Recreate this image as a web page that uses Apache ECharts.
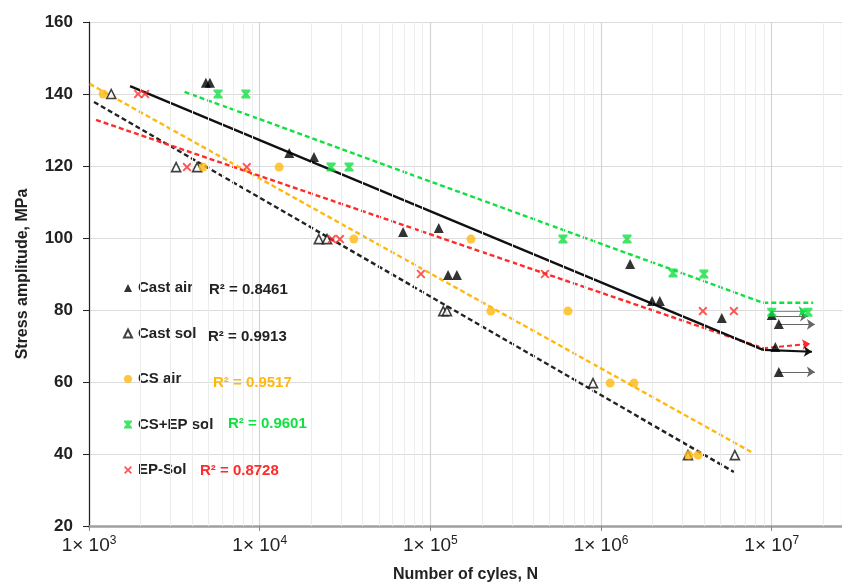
<!DOCTYPE html>
<html>
<head>
<meta charset="utf-8">
<title>S-N curves</title>
<script src="https://cdn.jsdelivr.net/npm/echarts@6/dist/echarts.min.js"></script>
<style>
  html, body { margin: 0; padding: 0; background: #fff; }
  #chart { width: 842px; height: 584px; }
</style>
</head>
<body>
<div id="chart"></div>
<script>
/********** data **********/
// [N, stress amplitude MPa]
var castAir = [
    [4.84e3, 143.1], [5.11e3, 143.1], [1.49e4, 123.6], [2.08e4, 122.5],
    [6.92e4, 101.7], [1.12e5, 102.8], [1.27e5, 89.7], [1.43e5, 89.7],
    [1.48e6, 92.8], [1.99e6, 82.5], [2.21e6, 82.5], [5.1e6, 77.8],
    [1.0e7, 78.6], [1.1e7, 76.1], [1.05e7, 69.7], [1.1e7, 62.8]
];
var castSol = [
    [1.35e3, 140], [3.24e3, 119.7], [4.3e3, 119.7], [2.22e4, 99.7],
    [2.48e4, 99.7], [1.19e5, 79.7], [1.25e5, 79.7], [8.97e5, 59.7],
    [3.23e6, 39.7], [6.08e6, 39.7]
];
var csAir = [
    [1.21e3, 140], [4.66e3, 119.7], [1.3e4, 119.7], [3.56e4, 99.7],
    [1.73e5, 99.7], [2.26e5, 79.7], [6.4e5, 79.7], [1.13e6, 59.7],
    [1.56e6, 59.7], [3.27e6, 39.7], [3.7e6, 39.7]
];
var csEpSol = [
    [5.7e3, 140], [8.3e3, 140], [2.62e4, 119.7], [3.34e4, 119.7],
    [5.98e5, 99.7], [1.42e6, 99.7], [2.64e6, 90.3], [4.0e6, 90],
    [1.0e7, 79.4], [1.63e7, 79.4]
];
var epSol = [
    [1.94e3, 140], [2.13e3, 140], [3.75e3, 119.7], [8.4e3, 119.7],
    [2.65e4, 99.7], [2.95e4, 99.7], [8.8e4, 90], [4.69e5, 90],
    [3.95e6, 79.7], [6.0e6, 79.7]
];

// trend lines
var trendCastAir = [[1.74e3, 142.2], [8.9e6, 68.9]];
var trendCastSol = [[1.07e3, 137.8], [6.0e6, 35]];
var trendCsAir   = [[1.01e3, 142.8], [7.76e6, 40.3]];
var trendCsEp    = [[3.63e3, 140.6], [8.9e6, 82], [1.75e7, 82]];
var trendEp      = [[1.1e3, 132.8], [8.9e6, 69.4]];

// run-out arrows
var runoutGray  = [
    [[1.0e7, 78.3], [1.63e7, 78.3]],
    [[1.1e7, 76.0], [1.79e7, 76.0]],
    [[1.1e7, 62.8], [1.79e7, 62.8]]
];
var runoutBlack = [[[8.9e6, 68.9], [1.72e7, 68.4]]];
var runoutRed   = [[[8.9e6, 69.4], [1.68e7, 70.6]]];
var runoutGreen = [[[1.0e7, 79.6], [1.6e7, 79.6]]];

var r2Labels = ['R² = 0.8461', 'R² = 0.9913', 'R² = 0.9517', 'R² = 0.9601', 'R² = 0.8728'];
var seriesNames = ['Cast air', 'Cast sol', 'CS air', 'CS+EP sol', 'EP-Sol'];
var decades = [1e3, 1e4, 1e5, 1e6, 1e7];
var minorSteps = [2, 3, 4, 5, 6, 7, 8, 9];

var FONT = '"Liberation Sans", Arial, sans-serif';
var ORANGE = '#FFB80F', GREEN = '#10E040', RED = '#FF2A2A';

var hourglass = 'path://M0,0 L10,0 L10,2 L7,5 L10,8 L10,10 L0,10 L0,8 L3,5 L0,2 Z';
var cross = 'path://M0,1.5 L1.5,0 L5,3.5 L8.5,0 L10,1.5 L6.5,5 L10,8.5 L8.5,10 L5,6.5 L1.5,10 L0,8.5 L3.5,5 Z';

// minor grid positions (2..9 x each decade)
var minorX = [];
decades.forEach(function (d) {
    if (d < 1e7) { minorSteps.forEach(function (m) { minorX.push(m * d); }); }
});
minorX.push(2e7);

function trend(data, color, type) {
    return {
        type: 'line', data: data, symbol: 'none', silent: true, z: 3,
        lineStyle: { color: color, width: 2.4, type: type }
    };
}
function arrows(data, color, width, type) {
    return {
        type: 'lines', coordinateSystem: 'cartesian2d', silent: true, z: 4,
        symbol: ['none', 'arrow'], symbolSize: 8,
        lineStyle: { color: color, width: width, type: type, opacity: 1 },
        data: data.map(function (c) { return { coords: c }; })
    };
}

var dom = document.getElementById('chart');
var myChart = echarts.init(dom);

var r2Colors = ['#222', '#222', ORANGE, GREEN, RED];
var r2X = [209, 208, 213, 228, 200];
var r2Y = [289, 336, 382, 423, 470];

var option = {
    animation: false,
    textStyle: { fontFamily: FONT },
    grid: { left: 89, right: 0, top: 22, bottom: 58, containLabel: false, outerBoundsMode: 'none' },
    xAxis: {
        type: 'log', logBase: 10, min: 1000, max: 2.58e7,
        name: 'Number of cyles, N', nameLocation: 'middle', nameGap: 41,
        nameTextStyle: { fontSize: 16, fontWeight: 'bold', color: '#222', fontFamily: FONT },
        axisLine: { lineStyle: { color: '#a0a0a0', width: 2.5 } },
        axisTick: { length: 5, lineStyle: { color: '#888' } },
        splitLine: { show: true, lineStyle: { color: '#d4d4d4', width: 1.2 } },
        axisLabel: {
            margin: 9, showMaxLabel: false, color: '#222',
            formatter: function (v) {
                var e = Math.round(Math.log10(v));
                return '{b|1× 10}{s|' + e + '}';
            },
            rich: {
                b: { fontSize: 19, fontFamily: FONT, color: '#222', lineHeight: 22 },
                s: { fontSize: 12, fontFamily: FONT, color: '#222', verticalAlign: 'top', lineHeight: 22 }
            }
        }
    },
    yAxis: {
        type: 'value', min: 20, max: 160, interval: 20,
        name: 'Stress amplitude, MPa', nameLocation: 'middle', nameGap: 58,
        nameTextStyle: { fontSize: 16, fontWeight: 'bold', color: '#222', fontFamily: FONT },
        axisLine: { show: true, lineStyle: { color: '#222', width: 1.2 } },
        axisTick: { show: true, length: 6, lineStyle: { color: '#222' } },
        splitLine: { show: true, lineStyle: { color: '#dcdcdc', width: 1.2 } },
        axisLabel: { margin: 16, fontSize: 17, fontWeight: 'bold', color: '#222', fontFamily: FONT }
    },
    legend: {
        orient: 'vertical', left: 123, top: 280, itemGap: 29.5, padding: 0,
        itemWidth: 8, itemHeight: 8,
        data: seriesNames,
        textStyle: { fontSize: 15, fontWeight: 'bold', color: '#222', fontFamily: FONT, lineHeight: 16, padding: [0, 0, 0, 1] }
    },
    graphic: r2Labels.map(function (t, i) {
        return {
            type: 'text', left: r2X[i], top: r2Y[i] - 7, z: 10,
            style: { text: t, fill: r2Colors[i], font: 'bold 15px ' + FONT }
        };
    }),
    series: [
        {
            type: 'line', data: [], silent: true, z: 0,
            markLine: {
                silent: true, symbol: 'none', label: { show: false },
                lineStyle: { color: '#ececec', width: 1, type: 'solid' },
                data: minorX.map(function (v) { return { xAxis: v }; })
            }
        },
        trend(trendCastSol, '#222', [5, 3]),
        trend(trendCsAir, ORANGE, [5, 3]),
        trend(trendEp, RED, [5, 3]),
        trend(trendCsEp, GREEN, [5, 3]),
        trend(trendCastAir, '#111', 'solid'),
        arrows(runoutGray, '#666', 1.2, 'solid'),
        arrows(runoutGreen, GREEN, 1.2, 'solid'),
        arrows(runoutRed, RED, 2, [5, 3]),
        arrows(runoutBlack, '#111', 2.2, 'solid'),
        {
            name: 'Cast air', type: 'scatter', data: castAir, z: 6,
            symbol: 'triangle', symbolSize: 10,
            itemStyle: { color: '#000' }
        },
        {
            name: 'Cast sol', type: 'scatter', data: castSol, z: 6,
            symbol: 'triangle', symbolSize: 9,
            itemStyle: { color: '#fff', borderColor: '#111', borderWidth: 1.6 }
        },
        {
            name: 'CS air', type: 'scatter', data: csAir, z: 6,
            symbol: 'circle', symbolSize: 9,
            itemStyle: { color: ORANGE }
        },
        {
            name: 'CS+EP sol', type: 'scatter', data: csEpSol, z: 6,
            symbol: hourglass, symbolSize: 9,
            itemStyle: { color: GREEN }
        },
        {
            name: 'EP-Sol', type: 'scatter', data: epSol, z: 6,
            symbol: cross, symbolSize: 9,
            itemStyle: { color: RED }
        }
    ]
};
myChart.setOption(option, true);
</script>
</body>
</html>
